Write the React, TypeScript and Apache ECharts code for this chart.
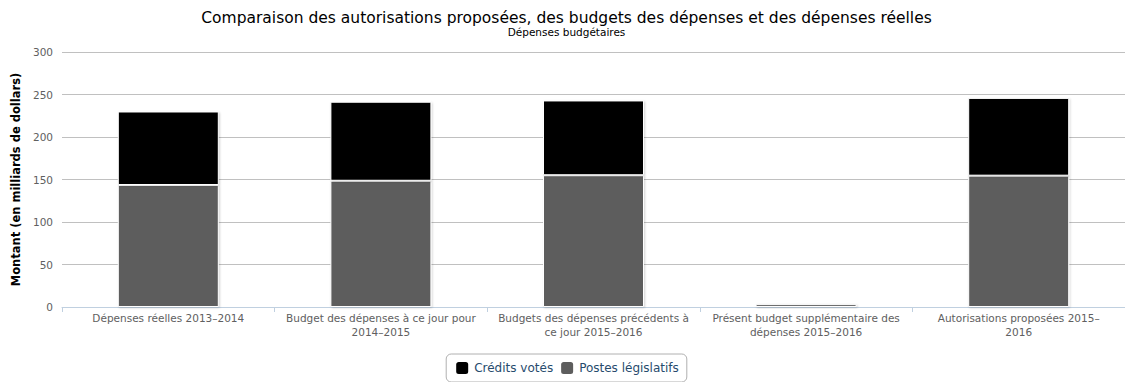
import React, { useEffect, useRef } from "react";
import * as echarts from "echarts";

const categories = [
  "Dépenses réelles 2013–2014",
  "Budget des dépenses à ce jour pour\n2014–2015",
  "Budgets des dépenses précédents à\nce jour 2015–2016",
  "Présent budget supplémentaire des\ndépenses 2015–2016",
  "Autorisations proposées 2015–\n2016",
];
const creditsVotes = [86.5, 93, 88, 0.8, 91.5];
const postesLegislatifs = [143.5, 148.5, 155, 3.4, 154.5];
const yTicks = [0, 50, 100, 150, 200, 250, 300];

const FONT = "DejaVu Sans";

export default function App() {
  const ref = useRef<HTMLDivElement>(null);
  useEffect(() => {
    if (!ref.current) return;
    const chart = echarts.init(ref.current, null, { renderer: "svg" });
    const barStyle = (color: string) => ({
      color,
      borderColor: "#ffffff",
      borderWidth: 1,
      shadowColor: "rgba(0,0,0,0.18)",
      shadowBlur: 2,
      shadowOffsetX: 1,
      shadowOffsetY: 1,
    });
    chart.setOption({
      animation: false,
      textStyle: { fontFamily: FONT },
      title: {
        text: "Comparaison des autorisations proposées, des budgets des dépenses et des dépenses réelles",
        subtext: "Dépenses budgétaires",
        left: "center",
        top: -3,
        itemGap: 0,
        textStyle: { fontFamily: FONT, fontSize: 15.5, fontWeight: "normal", color: "#000" },
        subtextStyle: { fontFamily: FONT, fontSize: 10.5, color: "#000" },
      },
      legend: {
        top: 346,
        left: "center",
        data: ["Crédits votés", "Postes législatifs"],
        icon: "roundRect",
        itemWidth: 14,
        itemHeight: 14,
        itemGap: 6,
        borderColor: "#b0b0b0",
        borderWidth: 1,
        borderRadius: 5,
        padding: [6, 8, 6, 8],
        textStyle: { fontFamily: FONT, fontSize: 12, color: "#274b6d" },
      },
      grid: { left: 54, right: 0, top: 44, bottom: 75, containLabel: false, outerBoundsMode: "none" },
      xAxis: {
        type: "category",
        data: categories,
        axisLine: { lineStyle: { color: "#C0D0E0", width: 1 } },
        axisTick: { show: true, length: 5, lineStyle: { color: "#C0D0E0" } },
        axisLabel: {
          color: "#606060",
          fontFamily: FONT,
          fontSize: 10.5,
          lineHeight: 14,
          margin: 4,
          interval: 0,
        },
      },
      yAxis: {
        type: "value",
        min: yTicks[0],
        max: yTicks[yTicks.length - 1],
        interval: 50,
        name: "Montant (en milliards de dollars)",
        nameLocation: "middle",
        nameGap: 38,
        nameTextStyle: { fontFamily: FONT, fontSize: 11.5, fontWeight: "bold", color: "#000" },
        axisLine: { show: false },
        axisTick: { show: false },
        splitLine: { lineStyle: { color: "#C0C0C0", width: 1 } },
        axisLabel: { color: "#606060", fontFamily: FONT, fontSize: 10.5, margin: 9 },
      },
      series: [
        {
          name: "Postes législatifs",
          type: "bar",
          stack: "total",
          barWidth: 101,
          data: postesLegislatifs,
          itemStyle: barStyle("#5d5d5d"),
        },
        {
          name: "Crédits votés",
          type: "bar",
          stack: "total",
          barWidth: 101,
          data: creditsVotes,
          itemStyle: barStyle("#000000"),
        },
      ],
    });
    return () => chart.dispose();
  }, []);
  return <div ref={ref} style={{ width: 1117, height: 374 }} />;
}
